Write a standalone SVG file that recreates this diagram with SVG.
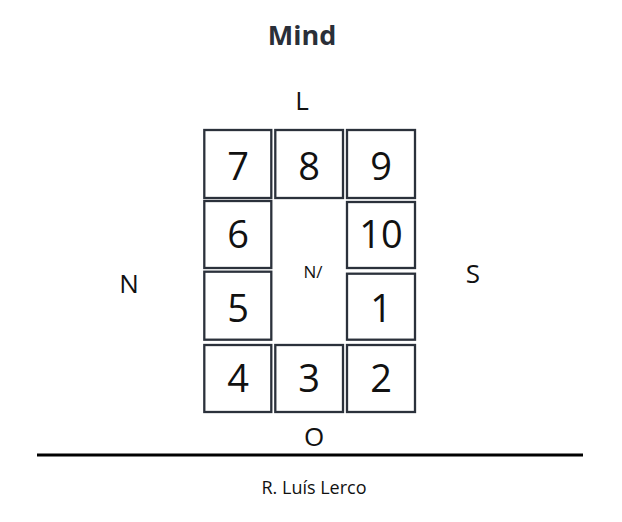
<svg xmlns="http://www.w3.org/2000/svg" width="622" height="522" viewBox="0 0 622 522">
<style>
.cell{fill:#fff;stroke:#2b313b;stroke-width:2.3}
.num{font-family:"Open Sans","Noto Sans",sans-serif;font-size:38px;fill:#111;text-anchor:middle}
.lbl{font-family:"Open Sans","Noto Sans",sans-serif;font-size:26px;fill:#111;text-anchor:middle}
</style>
<rect width="622" height="522" fill="#fff"/>
<text x="302" y="45" text-anchor="middle" font-family="'Open Sans','Noto Sans',sans-serif" font-size="27" font-weight="bold" fill="#2a2f38">Mind</text>
<text class="lbl" x="302" y="110">L</text>
<text class="lbl" x="129" y="293">N</text>
<text class="lbl" x="473" y="283">S</text>
<text class="lbl" x="314" y="446">O</text>
<g id="cell7"><rect class="cell" x="204.3" y="130" width="67" height="68"/><text class="num" x="238" y="180">7</text></g>
<g id="cell8"><rect class="cell" x="275.3" y="130" width="67.7" height="68"/><text class="num" x="309" y="180">8</text></g>
<g id="cell9"><rect class="cell" x="347" y="130" width="68" height="68"/><text class="num" x="381" y="180">9</text></g>
<g id="cell6"><rect class="cell" x="204.3" y="201" width="67" height="67"/><text class="num" x="238" y="248">6</text></g>
<g id="cell10"><rect class="cell" x="347" y="202" width="68" height="66"/><text class="num" x="381" y="248">10</text></g>
<g id="cell5"><rect class="cell" x="204.3" y="271.7" width="67" height="68"/><text class="num" x="238" y="322">5</text></g>
<g id="cell1"><rect class="cell" x="347" y="273.7" width="68" height="66"/><text class="num" x="381" y="322">1</text></g>
<g id="cell4"><rect class="cell" x="204.3" y="345" width="67" height="67"/><text class="num" x="238" y="392">4</text></g>
<g id="cell3"><rect class="cell" x="275.3" y="345" width="67.7" height="67"/><text class="num" x="309" y="392">3</text></g>
<g id="cell2"><rect class="cell" x="347" y="345" width="68" height="67"/><text class="num" x="381" y="392">2</text></g>
<g id="center"><text x="313" y="278" text-anchor="middle" font-family="'Open Sans','Noto Sans',sans-serif" font-size="17" fill="#111">N/</text></g>
<g id="connectors"><line x1="37" y1="455" x2="583" y2="455" stroke="#000" stroke-width="3"/></g>
<text x="314" y="494" text-anchor="middle" font-family="'Open Sans','Noto Sans',sans-serif" font-size="18" fill="#111">R. Luís Lerco</text>
</svg>
